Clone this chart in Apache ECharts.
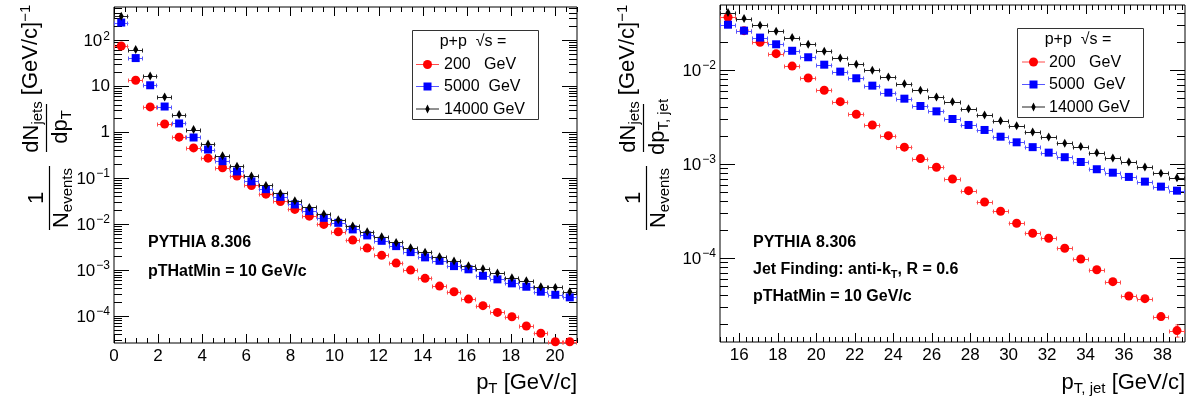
<!DOCTYPE html>
<html><head><meta charset="utf-8">
<script src="https://cdn.jsdelivr.net/npm/echarts@6/dist/echarts.min.js"></script>
<style>html,body{margin:0;padding:0;background:#fff}#c{width:1191px;height:400px}</style>
</head><body><div id="c"></div>
<script>
// ---------------- data ----------------
// left panel: jet pT bins (centres), 32 bins over 0-21 GeV/c
const leftPt = [0.328, 0.984, 1.641, 2.297, 2.953, 3.609, 4.266, 4.922, 5.578, 6.234, 6.891, 7.547, 8.203, 8.859, 9.516, 10.172,
  10.828, 11.484, 12.141, 12.797, 13.453, 14.109, 14.766, 15.422, 16.078, 16.734, 17.391, 18.047, 18.703, 19.359, 20.016, 20.672];
const leftHalfBin = 0.328;
const left200 = [75, 13.5, 3.55, 1.51, 0.78, 0.456, 0.272, 0.168, 0.111, 0.0694, 0.0449, 0.0311, 0.0209, 0.0149, 0.00985, 0.00681,
  0.00449, 0.00301, 0.00209, 0.00142, 0.00100, 0.00066, 0.000449, 0.000338, 0.000234, 0.000168, 0.000120, 0.0000966, 0.0000607, 0.0000421, 0.0000276, 0.0000276];
const left5000 = [243, 41, 10.5, 3.62, 1.55, 0.767, 0.42, 0.234, 0.140, 0.0852, 0.0577, 0.0392, 0.0268, 0.0192, 0.0137, 0.01067,
  0.00767, 0.00568, 0.00433, 0.00332, 0.00246, 0.00189, 0.00159, 0.00122, 0.00104, 0.000752, 0.000628, 0.000514, 0.000434, 0.000338, 0.00029, 0.000255];
const left14000 = [333, 62.8, 16.7, 5.85, 2.42, 1.14, 0.557, 0.306, 0.182, 0.112, 0.0694, 0.0465, 0.0321, 0.0231, 0.0165, 0.01246,
  0.00905, 0.00681, 0.0053, 0.0040, 0.00305, 0.00243, 0.00195, 0.00157, 0.00124, 0.00107, 0.00086, 0.00068, 0.000585, 0.000434, 0.00042, 0.000338];
const leftXTicks = [0, 2, 4, 6, 8, 10, 12, 14, 16, 18, 20];
const leftYTicks = [1e-4, 1e-3, 1e-2, 1e-1, 1, 10, 100];

// right panel: 29 bins over 15-39.17 GeV/c
const rightPt = [15.417, 16.25, 17.083, 17.917, 18.75, 19.583, 20.417, 21.25, 22.083, 22.917, 23.75, 24.583, 25.417, 26.25, 27.083,
  27.917, 28.75, 29.583, 30.417, 31.25, 32.083, 32.917, 33.75, 34.583, 35.417, 36.25, 37.083, 37.917, 38.75];
const rightHalfBin = 0.4167;
const right200 = [0.0364, 0.0262, 0.0197, 0.0149, 0.0110, 0.00822, 0.00608, 0.0046, 0.00338, 0.0026, 0.0020, 0.00151, 0.00114, 0.000922, 0.000692,
  0.00052, 0.000394, 0.000314, 0.000234, 0.000183, 0.000162, 0.000127, 0.0000975, 0.000075, 0.000056, 0.0000394, 0.0000369, 0.0000238, 0.0000169];
const right200Err = [0, 0, 0, 0, 0, 0, 0, 0, 0, 0, 0, 0, 0, 0, 0,
  0, 0, 0, 0, 0, 0, 0, 0, 0, 0.000002, 0.0000016, 0.0000015, 0.0000019, 0.0000025];
const right5000 = [0.0303, 0.0262, 0.0221, 0.01875, 0.0160, 0.01365, 0.01138, 0.0096, 0.00816, 0.00681, 0.00574, 0.00495, 0.00414, 0.00363, 0.00301,
  0.0026, 0.0023, 0.00195, 0.0017, 0.00151, 0.00132, 0.00118, 0.00105, 0.000879, 0.000808, 0.000728, 0.000649, 0.000574, 0.00052];
const right14000 = [0.0408, 0.0352, 0.0299, 0.0258, 0.0221, 0.01875, 0.0158, 0.0134, 0.0115, 0.00993, 0.00843, 0.00715, 0.00608, 0.00516, 0.0046,
  0.00387, 0.00332, 0.00289, 0.00255, 0.00219, 0.00194, 0.00166, 0.00153, 0.00132, 0.00116, 0.00105, 0.00093, 0.000796, 0.000714];
const rightXTicks = [16, 18, 20, 22, 24, 26, 28, 30, 32, 34, 36, 38];
const rightYTicks = [1e-4, 1e-3, 1e-2];

const legendLabels = ['200   GeV', '5000  GeV', '14000 GeV'];
const legendHeader = 'p+p  \u221As =';

// ---------------- style ----------------
const FONT = '"Liberation Sans", Arial, Helvetica, sans-serif';
const C_RED = '#ff0000', C_BLUE = '#0000ff', C_BLACK = '#000000';
const C_RED_ERR = '#ff4a4a', C_BLUE_ERR = '#5555ff', C_BLACK_ERR = '#222222';
const DIAMOND = 'path://M0,-5L2.4,0L0,5L-2.4,0Z';

const L = { xMin: 0, xMax: 21, yMin: 2.59e-5, yMax: 530 };
const R = { xMin: 15, xMax: 39.167, yMin: 1.277e-5, yMax: 0.0491 };

function powLabel(v) {
  const e = Math.round(Math.log10(v));
  if (e === 0) return '1';
  if (e === 1) return '10';
  return '{b|10}{s|' + (e < 0 ? '\u2212' + (-e) : String(e)) + '}';
}
const labelRich = {
  b: { fontSize: 17, fontFamily: FONT, color: '#000', verticalAlign: 'bottom', lineHeight: 20 },
  s: { fontSize: 12, fontFamily: FONT, color: '#000', verticalAlign: 'top', lineHeight: 12, padding: [0, 0, 0, 1] }
};

function linTickItems(min, max, yRef, step, majorEvery) {
  const out = [];
  const k0 = Math.ceil(min / step - 1e-9), k1 = Math.floor(max / step + 1e-9);
  for (let k = k0; k <= k1; k++) {
    const v = k * step;
    const major = (k % majorEvery) === 0;
    out.push([v, yRef, 0, major ? 9 : 5]);
  }
  return out;
}
function logTickItems(min, max, xRef) {
  const out = [];
  for (let n = Math.floor(Math.log10(min)); n <= Math.ceil(Math.log10(max)); n++) {
    for (let k = 1; k <= 9; k++) {
      const v = k * Math.pow(10, n);
      if (v >= min && v <= max) out.push([xRef, v, 1, k === 1 ? 15 : 8]);
    }
  }
  return out;
}
function tickSeries(idx, B, items) {
  return {
    type: 'custom', xAxisIndex: idx, yAxisIndex: idx, silent: true, clip: false, z: 5,
    data: items,
    renderItem: function (params, api) {
      const flag = api.value(2), len = api.value(3);
      const st = { stroke: '#000', lineWidth: 1 };
      if (flag === 0) {
        const x = api.value(0);
        const b = api.coord([x, B.yMin]), t = api.coord([x, B.yMax]);
        const px = Math.round(b[0]) + 0.5;
        return { type: 'group', children: [
          { type: 'line', shape: { x1: px, y1: b[1], x2: px, y2: b[1] - len }, style: st },
          { type: 'line', shape: { x1: px, y1: t[1], x2: px, y2: t[1] + len }, style: st }
        ] };
      }
      const y = api.value(1);
      const l = api.coord([B.xMin, y]), r = api.coord([B.xMax, y]);
      const py = Math.round(l[1]) + 0.5;
      return { type: 'group', children: [
        { type: 'line', shape: { x1: l[0], y1: py, x2: l[0] + len, y2: py }, style: st },
        { type: 'line', shape: { x1: r[0], y1: py, x2: r[0] - len, y2: py }, style: st }
      ] };
    }
  };
}
function errSeries(idx, xs, ys, half, yErr, color, z) {
  return {
    type: 'custom', xAxisIndex: idx, yAxisIndex: idx, silent: true, z: z,
    data: xs.map((x, i) => [x, ys[i], yErr ? yErr[i] : 0]),
    renderItem: function (params, api) {
      const x = api.value(0), y = api.value(1), e = api.value(2);
      const l = api.coord([x - half, y]), r = api.coord([x + half, y]), c = api.coord([x, y]);
      const st = { stroke: color, lineWidth: 1 };
      const py = Math.round(c[1]) + 0.5;
      const ch = [
        { type: 'line', shape: { x1: l[0], y1: py, x2: r[0], y2: py }, style: st },
        { type: 'line', shape: { x1: Math.round(l[0]) + 0.5, y1: py - 2, x2: Math.round(l[0]) + 0.5, y2: py + 2 }, style: st },
        { type: 'line', shape: { x1: Math.round(r[0]) - 0.5, y1: py - 2, x2: Math.round(r[0]) - 0.5, y2: py + 2 }, style: st }
      ];
      if (e > 0) {
        const t = api.coord([x, y + e]), b = api.coord([x, y - e]);
        const px = Math.round(c[0]) + 0.5;
        ch.push({ type: 'line', shape: { x1: px, y1: t[1], x2: px, y2: b[1] }, style: st });
        ch.push({ type: 'line', shape: { x1: px - 2, y1: t[1], x2: px + 2, y2: t[1] }, style: st });
        ch.push({ type: 'line', shape: { x1: px - 2, y1: b[1], x2: px + 2, y2: b[1] }, style: st });
      }
      return { type: 'group', children: ch };
    }
  };
}
function markSeries(idx, xs, ys, symbol, size, color, z) {
  return {
    type: 'scatter', xAxisIndex: idx, yAxisIndex: idx, silent: true, z: z,
    symbol: symbol, symbolSize: size, itemStyle: { color: color, opacity: 1 },
    data: xs.map((x, i) => [x, ys[i]])
  };
}

function xAxisCfg(idx, B, ticks) {
  return {
    gridIndex: idx, type: 'value', min: B.xMin, max: B.xMax,
    axisLine: { show: false }, axisTick: { show: false }, splitLine: { show: false },
    axisLabel: { customValues: ticks, color: '#000', fontSize: 17, fontFamily: FONT, margin: 5 }
  };
}
function yAxisCfg(idx, B, ticks) {
  return {
    gridIndex: idx, type: 'log', logBase: 10, min: B.yMin, max: B.yMax,
    axisLine: { show: false }, axisTick: { show: false }, splitLine: { show: false }, minorTick: { show: false },
    axisLabel: { customValues: ticks, color: '#000', fontSize: 17, fontFamily: FONT, margin: 4,
      formatter: powLabel, rich: labelRich }
  };
}

// ---------- graphic helpers ----------
function txt(x, y, rich, text, align, extra) {
  return Object.assign({ type: 'text', x: x, y: y, silent: true,
    style: { text: text, rich: rich, fill: '#000', font: '16px ' + FONT,
      align: align || 'left', verticalAlign: 'middle', textAlign: align || 'left', textVerticalAlign: 'middle' } }, extra || {});
}
const titleRich = {
  m: { fontSize: 22, fontFamily: FONT, color: '#000', verticalAlign: 'middle', lineHeight: 26 },
  s: { fontSize: 15, fontFamily: FONT, color: '#000', verticalAlign: 'bottom', lineHeight: 12 },
  p: { fontSize: 15, fontFamily: FONT, color: '#000', verticalAlign: 'top', lineHeight: 10 }
};
const annRich = {
  m: { fontSize: 16, fontFamily: FONT, fontWeight: 'bold', color: '#000', verticalAlign: 'middle', lineHeight: 20 },
  s: { fontSize: 11, fontFamily: FONT, fontWeight: 'bold', color: '#000', verticalAlign: 'bottom', lineHeight: 8 }
};
// rotated y-axis title: element given in screen coordinates (sx, sy) of its centre
function rot(sx, sy, text) {
  return { type: 'text', x: -sy, y: sx, silent: true,
    style: { text: text, rich: titleRich, fill: '#000', font: '22px ' + FONT,
      align: 'center', verticalAlign: 'middle', textAlign: 'center', textVerticalAlign: 'middle' } };
}
function rotBar(sx, sy0, sy1) {
  return { type: 'line', silent: true, shape: { x1: -sy1, y1: sx, x2: -sy0, y2: sx }, style: { stroke: '#000', lineWidth: 1.2 } };
}
function yTitle(dx, jetSub) {
  return { type: 'group', x: 0, y: 0, rotation: Math.PI / 2, children: [
    rot(dx + 37, 198, '{m|1}'),
    rotBar(dx + 49.5, 166, 230),
    rot(dx + 62, 198, '{m|N}{s|events}'),
    rot(dx + 32, 127, '{m|dN}{s|jets}'),
    rotBar(dx + 46.5, 104, 152),
    rot(dx + 61, 127, '{m|dp}{s|' + jetSub + '}'),
    rot(dx + 31, 50, '{m|[GeV/c]}{p|\u22121}')
  ] };
}
function legend(x0, y0, x1, y1, hx, hy, rows, lx0, lx1, tx) {
  const ch = [
    { type: 'rect', silent: true, shape: { x: x0 + 0.5, y: y0 + 0.5, width: x1 - x0, height: y1 - y0 }, style: { fill: '#fff', stroke: '#333', lineWidth: 1 } },
    txt(hx, hy, null, legendHeader, 'center')
  ];
  const cols = [[C_RED, C_RED_ERR], [C_BLUE, C_BLUE_ERR], [C_BLACK, C_BLACK_ERR]];
  const mx = (lx0 + lx1) / 2;
  rows.forEach((ry, i) => {
    ch.push({ type: 'line', silent: true, shape: { x1: lx0, y1: ry + 0.5, x2: lx1, y2: ry + 0.5 }, style: { stroke: cols[i][1], lineWidth: 1 } });
    if (i === 0) ch.push({ type: 'circle', silent: true, shape: { cx: mx, cy: ry + 0.5, r: 4.5 }, style: { fill: C_RED } });
    if (i === 1) ch.push({ type: 'rect', silent: true, shape: { x: mx - 4, y: ry - 3.5, width: 8, height: 8 }, style: { fill: C_BLUE } });
    if (i === 2) ch.push({ type: 'polygon', silent: true, shape: { points: [[mx, ry - 4], [mx + 2.2, ry + 0.5], [mx, ry + 5], [mx - 2.2, ry + 0.5]] }, style: { fill: C_BLACK } });
    ch.push(txt(tx, ry + 1, null, legendLabels[i], 'left'));
  });
  return { type: 'group', children: ch };
}

const chart = echarts.init(document.getElementById('c'), null, { renderer: 'canvas' });
chart.setOption({
  animation: false,
  backgroundColor: '#fff',
  textStyle: { fontFamily: FONT },
  grid: [
    { left: 114, top: 7, width: 463, height: 336, show: true, borderColor: '#000', borderWidth: 1, backgroundColor: 'transparent' },
    { left: 720, top: 5, width: 465, height: 337, show: true, borderColor: '#000', borderWidth: 1, backgroundColor: 'transparent' }
  ],
  xAxis: [xAxisCfg(0, L, leftXTicks), xAxisCfg(1, R, rightXTicks)],
  yAxis: [yAxisCfg(0, L, leftYTicks), yAxisCfg(1, R, rightYTicks)],
  series: [
    tickSeries(0, L, linTickItems(L.xMin, L.xMax, L.yMin, 0.5, 4).concat(logTickItems(L.yMin, L.yMax, L.xMin))),
    tickSeries(1, R, linTickItems(R.xMin, R.xMax, R.yMin, 1 / 3, 6).concat(logTickItems(R.yMin, R.yMax, R.xMin))),
    errSeries(0, leftPt, left200, leftHalfBin, null, C_RED_ERR, 10),
    markSeries(0, leftPt, left200, 'circle', 9, C_RED, 11),
    errSeries(0, leftPt, left5000, leftHalfBin, null, C_BLUE_ERR, 12),
    markSeries(0, leftPt, left5000, 'rect', 8, C_BLUE, 13),
    errSeries(0, leftPt, left14000, leftHalfBin, null, C_BLACK_ERR, 14),
    markSeries(0, leftPt, left14000, DIAMOND, [5, 9], C_BLACK, 15),
    errSeries(1, rightPt, right200, rightHalfBin, right200Err, C_RED_ERR, 10),
    markSeries(1, rightPt, right200, 'circle', 9, C_RED, 11),
    errSeries(1, rightPt, right5000, rightHalfBin, null, C_BLUE_ERR, 12),
    markSeries(1, rightPt, right5000, 'rect', 8, C_BLUE, 13),
    errSeries(1, rightPt, right14000, rightHalfBin, null, C_BLACK_ERR, 14),
    markSeries(1, rightPt, right14000, DIAMOND, [5, 9], C_BLACK, 15)
  ],
  graphic: [
    legend(412, 30, 538, 119, 473, 42, [64, 86, 108.5], 416, 439, 444),
    legend(1017, 28, 1143, 117, 1078, 40, [61.5, 84, 106.5], 1022, 1045, 1049),
    yTitle(0, 'T'),
    yTitle(597, 'T, jet'),
    txt(577, 383, titleRich, '{m|p}{s|T}{m| [GeV/c]}', 'right'),
    txt(1185, 383, titleRich, '{m|p}{s|T, jet}{m| [GeV/c]}', 'right'),
    txt(148, 243, annRich, '{m|PYTHIA 8.306}', 'left'),
    txt(148, 272, annRich, '{m|pTHatMin = 10 GeV/c}', 'left'),
    txt(753, 243, annRich, '{m|PYTHIA 8.306}', 'left'),
    txt(753, 270, annRich, '{m|Jet Finding: anti-k}{s|T}{m|, R = 0.6}', 'left'),
    txt(753, 297, annRich, '{m|pTHatMin = 10 GeV/c}', 'left')
  ]
});
</script></body></html>
